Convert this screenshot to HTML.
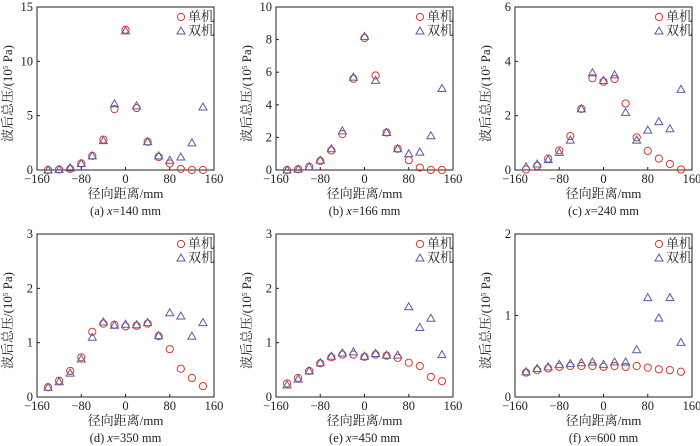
<!DOCTYPE html>
<html><head><meta charset="utf-8">
<style>
html,body{margin:0;padding:0;background:#fff;}
svg{display:block;font-family:"Liberation Serif","Noto Serif CJK SC",serif;}
</style></head>
<body>
<svg id="chart" width="700" height="446" viewBox="0 0 700 446" xmlns="http://www.w3.org/2000/svg"></svg>
<script>
const xCats = [-140,-120,-100,-80,-60,-40,-20,0,20,40,60,80,100,120,140];
const xTicks = [-160,-80,0,80,160];
const xTickLabels = ["\u2212160","\u221280","0","80","160"];
const captions = ["(a) ","(b) ","(c) ","(d) ","(e) ","(f) "];
const captionX = ["140","166","240","350","450","600"];
const yMaxes = [15,10,6,3,3,2];
const yTicksA = [0,5,10,15];
const yTicksB = [0,2,4,6,8,10];
const yTicksC = [0,2,4,6];
const yTicksD = [0,1,2,3];
const yTicksE = [0,1,2,3];
const yTicksF = [0,1,2];
const singleA = [0,0.05,0.1,0.6,1.3,2.8,5.6,12.9,5.7,2.6,1.2,0.6,0.1,0,0];
const doubleA = [0,0.05,0.2,0.6,1.3,2.7,6.1,12.8,5.9,2.6,1.3,0.9,1.2,2.5,5.8];
const singleB = [0,0.05,0.2,0.55,1.2,2.2,5.6,8.1,5.8,2.3,1.3,0.6,0.15,0,0];
const doubleB = [0,0.05,0.2,0.6,1.3,2.4,5.7,8.2,5.5,2.3,1.3,1.0,1.1,2.1,5.0];
const singleC = [0.02,0.15,0.42,0.72,1.25,2.25,3.38,3.25,3.35,2.45,1.2,0.7,0.42,0.22,0.02];
const doubleC = [0.12,0.22,0.38,0.65,1.1,2.25,3.58,3.3,3.5,2.12,1.1,1.47,1.78,1.52,2.97];
const singleD = [0.18,0.3,0.48,0.73,1.2,1.35,1.33,1.3,1.31,1.35,1.12,0.88,0.52,0.35,0.2];
const doubleD = [0.18,0.28,0.44,0.7,1.1,1.38,1.32,1.34,1.33,1.37,1.13,1.55,1.49,1.12,1.37];
const singleE = [0.25,0.35,0.48,0.62,0.73,0.78,0.78,0.74,0.78,0.76,0.72,0.63,0.57,0.37,0.29];
const doubleE = [0.22,0.33,0.48,0.63,0.75,0.81,0.83,0.75,0.8,0.77,0.77,1.66,1.28,1.45,0.78];
const singleF = [0.3,0.33,0.35,0.37,0.38,0.38,0.38,0.37,0.38,0.37,0.38,0.36,0.34,0.33,0.31];
const doubleF = [0.31,0.35,0.37,0.4,0.41,0.42,0.43,0.4,0.43,0.43,0.58,1.22,0.97,1.22,0.67];

const yTicksAll=[yTicksA,yTicksB,yTicksC,yTicksD,yTicksE,yTicksF];
const singles=[singleA,singleB,singleC,singleD,singleE,singleF];
const doubles=[doubleA,doubleB,doubleC,doubleD,doubleE,doubleF];
const NS="http://www.w3.org/2000/svg";
const svg=document.getElementById('chart');
function mk(tag,attrs,parent,text){const e=document.createElementNS(NS,tag);for(const k in attrs)e.setAttribute(k,attrs[k]);if(text!==undefined)e.textContent=text;parent.appendChild(e);return e;}
const lefts=[37,276,515];
const tops=[7,234];
const W=177,H=163;
const RED="#d8392e",BLUE="#5a5aa6";
for(let p=0;p<6;p++){
  const L=lefts[p%3],T=tops[Math.floor(p/3)],B=T+H,R=L+W;
  const g=mk('g',{},svg);
  
  
  const xs=v=>L+(v+160)/320*W;
  const ys=v=>B-v/yMaxes[p]*H;
  const fr=mk('rect',{x:L,y:T,width:W,height:H,fill:'none',stroke:'#222','stroke-width':1},g);
  
  xTicks.forEach((t,i)=>{
    const x=xs(t);
    mk('line',{x1:x,y1:B,x2:x,y2:B-3,stroke:'#222'},g);
    const tl=mk('text',{x:x,y:B+13,'font-size':12.5,'text-anchor':'middle',fill:'#222'},g,xTickLabels[i]);
    
  });
  yTicksAll[p].forEach(t=>{
    const y=ys(t);
    mk('line',{x1:L,y1:y,x2:L+3,y2:y,stroke:'#222'},g);
    const tl=mk('text',{x:L-4,y:y+4,'font-size':12.5,'text-anchor':'end',fill:'#222'},g,String(t));
    
  });
  const xt=mk('text',{x:L+W/2,y:B+28,'font-size':13,'text-anchor':'middle',fill:'#222'},g,'径向距离/mm');
  
  const cap=mk('text',{x:L+W/2,y:B+45,'font-size':12.5,'text-anchor':'middle',fill:'#222'},g);
  
  mk('tspan',{},cap,captions[p]);mk('tspan',{'font-style':'italic'},cap,'x');mk('tspan',{},cap,'='+captionX[p]+' mm');
  const yl=mk('text',{x:0,y:0,'font-size':13,'text-anchor':'middle',fill:'#222',transform:`translate(${L-25},${T+H/2+5}) rotate(-90)`},g);
  
  mk('tspan',{},yl,'波后总压/(10');mk('tspan',{'font-size':7,dy:-4},yl,'5');mk('tspan',{dy:4},yl,' Pa)');
  singles[p].forEach((v,i)=>{
    const c=mk('circle',{cx:xs(xCats[i]),cy:ys(v),r:3.6,fill:'none',stroke:RED,'stroke-width':1},g);
    
  });
  doubles[p].forEach((v,i)=>{
    const x=xs(xCats[i]),y=ys(v);
    const t=mk('polygon',{points:`${x},${y-4} ${x-4},${y+3} ${x+4},${y+3}`,fill:'none',stroke:BLUE,'stroke-width':1},g);
    
  });
  const lg=mk('g',{},g);
  
  const lx=R-33;
  mk('circle',{cx:lx,cy:T+10,r:3.6,fill:'none',stroke:RED},lg);
  mk('text',{x:lx+7,y:T+14,'font-size':13,fill:'#222'},lg,'单机');
  mk('polygon',{points:`${lx},${T+20} ${lx-4},${T+27} ${lx+4},${T+27}`,fill:'none',stroke:BLUE},lg);
  mk('text',{x:lx+7,y:T+28,'font-size':13,fill:'#222'},lg,'双机');
}
</script>
</body></html>
